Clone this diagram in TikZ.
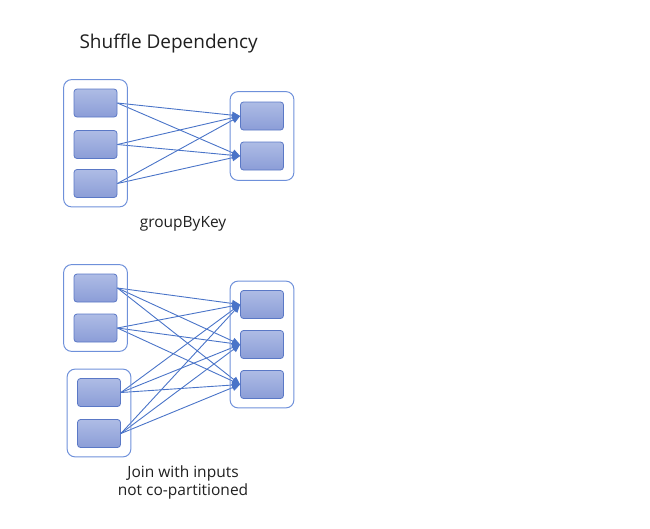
\documentclass[tikz,border=0pt]{standalone}
\usepackage{fontspec}
\setmainfont{Open Sans}
\usetikzlibrary{arrows.meta, fit, positioning}
\definecolor{partline}{HTML}{5A78C6}
\definecolor{parttop}{HTML}{AEBCE5}
\definecolor{partbot}{HTML}{8B9DD7}
\definecolor{grpline}{HTML}{6E90DA}
\definecolor{flowline}{HTML}{4A74C8}
\tikzset{
  part/.style={draw=partline, line width=0.8pt, rounded corners=3pt,
    top color=parttop, bottom color=partbot,
    minimum width=43pt, minimum height=28pt, inner sep=0pt},
  grp/.style={draw=grpline, line width=1pt, rounded corners=8pt,
    inner xsep=10pt, inner ysep=9pt},
  flow/.style={draw=flowline, line width=0.9pt, -{Triangle[length=8pt,width=7pt]}},
  caption/.style={font=\fontsize{15.5}{19}\selectfont, text=black!88, align=center}
}
\begin{document}
\begin{tikzpicture}[x=1pt, y=-1pt]
\useasboundingbox (0,0) rectangle (650,528);
\node[anchor=west, font=\fontsize{19}{22}\selectfont, text=black!88] (title) at (76,44) {Shuffle Dependency};
% groupByKey
\node[part] (a1) at (95.5,103) {};
\node[part] (a2) at (95.5,144.5) {};
\node[part] (a3) at (95.5,183.5) {};
\node[part] (b1) at (262,116) {};
\node[part] (b2) at (262,156) {};
\node[caption] (gbk) at (183,224) {groupByKey};
% Join with inputs not co-partitioned
\node[part] (c1) at (95.5,288) {};
\node[part] (c2) at (95.5,328) {};
\node[part] (d1) at (99,392.5) {};
\node[part] (d2) at (99,433.5) {};
\node[part] (e1) at (262,304.5) {};
\node[part] (e2) at (262,344.5) {};
\node[part] (e3) at (262,384.5) {};
\node[caption] (join) at (183,482) {Join with inputs\\[-1pt]not co-partitioned};
% connectors
\foreach \s in {a1,a2,a3}
  \foreach \t in {b1,b2}
    \draw[flow] (\s.east) -- (\t.west);
\foreach \s in {c1,c2,d1,d2}
  \foreach \t in {e1,e2,e3}
    \draw[flow] (\s.east) -- (\t.west);
% group boxes
\node[grp, fit=(a1)(a3)] (ga) {};
\node[grp, fit=(b1)(b2), inner ysep=10pt] (gb) {};
\node[grp, fit=(c1)(c2)] (gc) {};
\node[grp, fit=(d1)(d2)] (gd) {};
\node[grp, fit=(e1)(e3)] (ge) {};
\end{tikzpicture}
\end{document}
